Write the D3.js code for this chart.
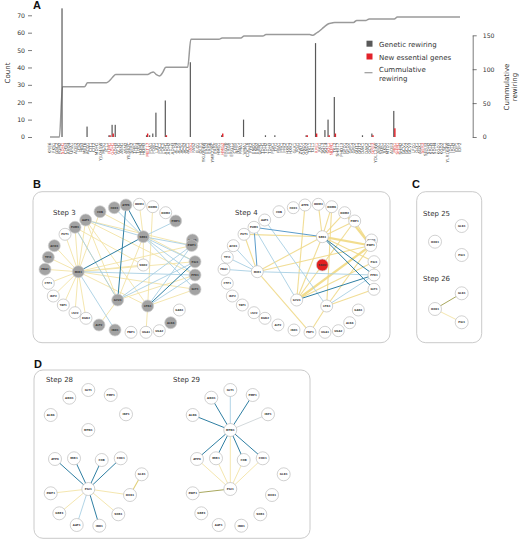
<!DOCTYPE html>
<html><head><meta charset="utf-8">
<script src="https://cdn.jsdelivr.net/npm/d3@7"></script>
<style>body{margin:0;background:#fff}svg{display:block}</style>
</head><body><div id="c"></div>
<script>
// ---------------- DATA ----------------
const genes = [
"KRE6","FKS1","GSC2","PGM2","SDH1","CHS3","ARO4","URA1","ADE2","LYS2","HIS3","MET6",
"ACO1","CIT1","CIT2","MDH1","YJL045W","MLS1","ICL1","FUM1","GDH1","GDH3","GLN1","ASN1",
"ASN2","YIL042C","SER2","THR1","THR4","HOM2","HOM3","MET17","PDA1","PDB1","LAT1","PDC1",
"PDC5","ADH1","ADH2","ADH3","ALD4","ALD5","ACS1","ACS2","ACC1","FAS1","FAS2","ELO1",
"OLE1","YKL094W","ERG2","ERG6","YMR226C","ERG5","HMG1","HMG2","ERG20","ERG9","ERG11","CYB5",
"NCP1","PMA1","VMA1","CDC19","PYK2","ENO1","ENO2","GPM1","TDH1","TDH2","TDH3","PGK1",
"TPI1","FBA1","PFK1","PFK2","HXK1","HXK2","GLK1","PGI1","ZWF1","GND1","GND2","TKL1",
"TAL1","RPE1","RKI1","SOL3","SOL4","SOL1","NQM1","TKL2","SHB17","PHO13","GPD1","GPD2",
"GPP1","GPP2","GUT1","GUT2","DAK1","DAK2","GCY1","GRE3","YDL124W","ARA1","SOR1","XKS1",
"MTD1","ADE3","MIS1","SHM1","SHM2","GCV1","GCV2","GCV3","LPD1","GLY1","AGX1","SER3",
"SER33","SDH2","SDH3","SDH4","KGD1","KGD2","LSC1","YLR164W","IDH1","IDH2","IDP1","IDP2"
];
const geneticRewiring = [
0,0,0,0,74,0,0,0,0,0,0,0,
6,0,0,0,0,0,0,1,7,7,0,0,
0,0,0,0,0,0,0,1,1,2,14,0,
0,21,0,0,0,0,0,0,0,43,0,0,
0,0,0,0,0,0,0,1,0,0,0,0,
0,0,10,0,0,0,0,0,0,1,0,0,
1,0,0,0,0,0,0,0,0,0,1,0,
0,54,0,0,4,10,0,23,0,0,0,0,
0,0,0,0,1,0,0,2,0,0,0,0,
0,0,15,0,0,0,0,0,0,0,0,0,
0,0,0,0,0,0,0,0,0,0,0,0
];
const newEssential = [
0,0,0,0,0,0,0,0,0,0,0,0,
0,0,0,0,0,0,0,1,2,0,0,0,
0,0,0,0,0,0,0,2,0,0,0,0,
0,1,0,0,0,0,0,0,0,0,0,0,
0,0,0,0,0,0,0,2,0,0,0,0,
0,0,0,0,0,0,0,0,0,0,0,0,
0,0,0,0,0,0,0,0,0,0,1,0,
0,2,0,0,0,1,0,2,0,0,0,0,
0,0,0,0,0,0,0,1,0,0,0,0,
0,0,5,0,0,0,0,0,0,0,0,0,
0,0,0,0,0,0,0,0,0,0,0,0
];
const cumulative = [
0,0,0,0,74,74,74,74,74,74,74,74,
80,80,80,80,80,80,80,83,88,92,92,92,
92,92,92,92,92,92,92,92,94,96,92,90,
95,103,103,103,103,103,103,103,103,144,144,144,
144,144,144,144,144,144,144,146,146,146,146,146,
146,146,149,149,149,149,149,149,149,151,151,151,
151,151,151,151,151,151,151,151,151,151,151,151,
150,153,156,160,164,167,168,169,169,169,169,169,
169,169,172,172,172,172,174,174,174,174,174,174,
174,174,174,177,177,177,177,177,177,177,177,177,
177,177,177,177,177,177,177,177,177,177,177,177
];
const redLabelGenes = ["SDH1","FUM1","GDH1","MET17","FAS1","HMG2","RPE1","SOL1","NQM1","GRE3","MIS1","SHM1","SER3"];
const countTicks = [0,10,20,30,40,50,60,70];
const cumTicks = [0,50,100,150];
const legendLabels = ["Genetic rewiring","New essential genes",["Cummulative","rewiring"]];

// network layouts (layout units)
const layoutB = [
["COB",55,7.7],["COX1",69.3,3.7],["ATP6",81,1],["HOM3",94.3,0.3],["HOM6",107.7,2.7],["HOM2",120.7,8.7],
["PMP1",130.7,17],["GND1",147.5,36],["ZWF1",146.7,41.5],["PGI1",150,57.7],["PFK1",150,71],["GLY1",150,85.3],
["GAD1",134.3,106],["ALD6",125.7,118.7],["UGA2",114.3,126.7],["UGA1",101,128.3],["FBP1",86,128.3],
["IDH1",70,126],["ALT2",54,121],["KGD2",41,114.3],["LSC2",30,108.7],["YAT1",18.3,101],["IDP2",8.3,92],
["CTP1",3.3,79.3],["FBA1",0,65.3],["TPI1",3.3,53.3],["ACH1",9.3,41.7],["PUT1",20,30.3],["FUM1",30,23.3],
["AAT1",40.7,16],["SER3",98.3,32.7],["SDH2",98.3,61],["MIR1",33.3,67.7],["GCV3",72.7,96],["LPD1",102.7,102]
];
const step3Grey = ["COB","COX1","ATP6","PMP1","GND1","ZWF1","PGI1","PFK1","GLY1","ALD6","IDH1","ALT2","FBA1","TPI1","ACH1","FUM1","AAT1","SER3","MIR1","GCV3","LPD1"];
const step4Red = ["SDH2"];
const step3Edges = [
["MIR1","FUM1","l"],["MIR1","PUT1","l"],["MIR1","ACH1","l"],["MIR1","TPI1","l"],["MIR1","FBA1","l"],["MIR1","CTP1","l"],
["MIR1","IDP2","l"],["MIR1","YAT1","l"],["MIR1","LSC2","l"],["MIR1","KGD2","l"],["MIR1","AAT1","l"],["MIR1","COB","l"],
["MIR1","SDH2","l"],["MIR1","PGI1","l"],["MIR1","ZWF1","l"],["MIR1","GLY1","l"],["GCV3","AAT1","l"],["GCV3","FUM1","l"],
["GCV3","ALT2","l"],["GCV3","SER3","l"],["LPD1","HOM6","l"],["SER3","HOM3","l"],["SER3","SDH2","l"],["AAT1","ZWF1","l"],
["AAT1","PFK1","l"],["FUM1","SDH2","l"],["LPD1","GLY1","l"],["LPD1","UGA1","l"],["LPD1","MIR1","l"],["GCV3","PFK1","l"],
["AAT1","LPD1","l"],["COB","PGI1","l"],
["AAT1","SER3","b"],["SER3","ZWF1","b"],["SER3","PGI1","b"],["SER3","PFK1","b"],["SER3","GLY1","b"],["SER3","PMP1","b"],
["MIR1","PFK1","b"],["GCV3","ZWF1","b"],["GCV3","PGI1","b"],["FUM1","GCV3","b"],["LPD1","ZWF1","b"],["MIR1","IDH1","b"],
["COX1","SER3","b"],["LPD1","PFK1","b"],
["ATP6","SER3","t"],["ATP6","GCV3","t"],["MIR1","SER3","t"],["PGI1","LPD1","t"]
];
const step4Edges = [
["SER3","ZWF1","Y"],["SER3","HOM3","y"],["SER3","HOM6","y"],["SER3","HOM2","y"],["SER3","PMP1","y"],["SER3","PGI1","y"],
["SER3","MIR1","y"],["SER3","PUT1","y"],["MIR1","ZWF1","y"],["GCV3","ATP6","y"],["GCV3","ZWF1","Y"],["GCV3","PGI1","y"],
["GCV3","PMP1","y"],["LPD1","HOM6","y"],["LPD1","FBP1","y"],["LPD1","ZWF1","y"],["LPD1","GLY1","y"],["FBP1","MIR1","y"],
["MIR1","PUT1","y"],["ZWF1","HOM2","Y"],["ZWF1","PMP1","y"],["PGI1","PFK1","y"],["GCV3","SER3","y"],
["MIR1","PFK1","b"],["LPD1","PFK1","b"],["FUM1","GCV3","b"],["MIR1","FBA1","b"],["MIR1","TPI1","b"],["MIR1","ACH1","b"],["AAT1","LPD1","b"],
["FUM1","MIR1","m"],["FUM1","SER3","m"],
["SER3","PFK1","t"],["SER3","GLY1","t"],["GCV3","PFK1","t"]
];
const layoutC = [["GLK1",26.7,0],["HXK1",0,15.7],["PGI1",26.7,29]];
const step25Edges = [];
const step26Edges = [["HXK1","GLK1","o"],["HXK1","PGI1","l"]];
const layoutD = [
["GLY1",37.6,0],["ADO1",18.6,7.7],["PMP1",60,5],["ALD6",0,25],["IDP1",75.3,24.3],["MTD1",37.6,40],
["ATP6",4.3,69],["MIR1",23.3,68.3],["COB",51,70],["COX1",70,68.3],["GLK1",91,84.3],["PGI1",37.6,99],
["HXK1",79.3,105],["ZWF1",0,103.3],["GRE3",8.6,123.3],["SOR1",67.6,124.3],["AAT1",26,135],["IDH1",48.6,135.7]
];
const step28Edges = [
["PGI1","ZWF1","l"],["PGI1","GRE3","l"],["PGI1","SOR1","l"],["PGI1","HXK1","l"],["HXK1","GLK1","y2"],["PGI1","AAT1","b"],
["PGI1","ATP6","t"],["PGI1","MIR1","t"],["PGI1","COB","t"],["PGI1","COX1","t"],["PGI1","IDH1","t"]
];
const step29Edges = [
["MTD1","PGI1","l"],["PGI1","ATP6","l"],["PGI1","MIR1","l"],["PGI1","COB","l"],["PGI1","COX1","l"],["PGI1","ZWF1","o"],
["MTD1","IDP1","g"],["MTD1","GLY1","b"],
["MTD1","ADO1","t"],["MTD1","PMP1","t"],["MTD1","ALD6","t"],["MTD1","ATP6","t"],["MTD1","MIR1","t"],["MTD1","COB","t"],["MTD1","COX1","t"]
];
const stepTitles = ["Step 3","Step 4","Step 25","Step 26","Step 28","Step 29"];

// ---------------- STYLE ----------------
const FONT = "'DejaVu Sans', Verdana, sans-serif";
const edgeStyle = {
  l:{c:"#f3e3a6",w:1,o:0.9}, y:{c:"#f0d98a",w:1.1,o:0.9}, Y:{c:"#f0d77a",w:2.2,o:0.85}, y2:{c:"#e2d07a",w:1.1,o:1},
  b:{c:"#a9cfe3",w:1,o:0.9}, m:{c:"#5b9ccb",w:1,o:1}, t:{c:"#2f7fa3",w:1,o:1},
  o:{c:"#a9a85e",w:1,o:1}, g:{c:"#d3d9dc",w:1,o:1}
};

const svg = d3.select("#c").append("svg").attr("width",520).attr("height",541)
  .style("font-family",FONT);

// ---------------- PANEL A ----------------
const x = d3.scalePoint().domain(genes).range([50,460]);
const yL = d3.scaleLinear().domain([0,70]).range([137,15.3]);
const yR = d3.scaleLinear().domain([0,150]).range([137,35.3]);
const A = svg.append("g");

A.append("g").attr("transform","translate(32,0)")
  .call(d3.axisLeft(yL).tickValues(countTicks).tickSize(4).tickPadding(3))
  .attr("font-family",FONT).attr("font-size",6.2)
  .call(g=>g.select(".domain").remove())
  .call(g=>g.selectAll("line").attr("stroke","#444").attr("stroke-width",0.7))
  .call(g=>g.selectAll("text").attr("fill","#333"));

A.append("g").attr("transform","translate(472.7,0)")
  .call(d3.axisRight(yR).tickValues(cumTicks).tickSize(4).tickSizeOuter(0).tickPadding(6))
  .attr("font-family",FONT).attr("font-size",6.2)
  .call(g=>g.select(".domain").attr("stroke","#444").attr("stroke-width",0.7))
  .call(g=>g.selectAll("line").attr("stroke","#444").attr("stroke-width",0.7))
  .call(g=>g.selectAll("text").attr("fill","#333"));

A.append("text").attr("transform","translate(10,73) rotate(-90)").attr("text-anchor","middle")
  .attr("font-size",7).attr("fill","#333").text("Count");
const rl = A.append("text").attr("transform","translate(509,87) rotate(-90)").attr("text-anchor","middle")
  .attr("font-size",7).attr("fill","#333");
rl.append("tspan").attr("x",0).attr("dy",0).text("Cummulative");
rl.append("tspan").attr("x",0).attr("dy",8).text("rewiring");

const line = d3.line().x((d,i)=>x(genes[i])).y(d=>yR(d)).curve(d3.curveMonotoneX);
A.append("path").datum(cumulative).attr("d",line).attr("fill","none")
  .attr("stroke","#9a9a9a").attr("stroke-width",1.5);

A.selectAll(".bg").data(genes.map((g,i)=>({g,v:geneticRewiring[i]})).filter(d=>d.v>0))
  .join("rect").attr("x",d=>x(d.g)-1.1).attr("width",1.2)
  .attr("y",d=>yL(d.v)).attr("height",d=>yL(0)-yL(d.v)).attr("fill","#595959");
A.selectAll(".br").data(genes.map((g,i)=>({g,v:newEssential[i]})).filter(d=>d.v>0))
  .join("rect").attr("x",d=>x(d.g)-0.1).attr("width",1.4)
  .attr("y",d=>yL(d.v)).attr("height",d=>yL(0)-yL(d.v)).attr("fill","#e2222a");

A.selectAll(".xl").data(genes).join("text")
  .attr("transform",d=>`translate(${x(d)},142.5) rotate(-90)`)
  .attr("text-anchor","end").attr("dy","0.35em").attr("font-size",4.2)
  .attr("fill",d=>redLabelGenes.includes(d)?"#e23a3a":"#444").text(d=>d);

// legend
const L = A.append("g");
L.append("rect").attr("x",366.5).attr("y",40.7).attr("width",6).attr("height",6).attr("fill","#595959");
L.append("rect").attr("x",366.5).attr("y",53.5).attr("width",6).attr("height",6).attr("fill","#e2222a");
L.append("line").attr("x1",364.5).attr("x2",372.5).attr("y1",72.7).attr("y2",72.7).attr("stroke","#9a9a9a").attr("stroke-width",1.2);
L.append("text").attr("x",379).attr("y",47).attr("font-size",7).attr("fill","#333").text(legendLabels[0]);
L.append("text").attr("x",379).attr("y",60).attr("font-size",7).attr("fill","#333").text(legendLabels[1]);
L.append("text").attr("x",379).attr("y",72).attr("font-size",7).attr("fill","#333").text(legendLabels[2][0]);
L.append("text").attr("x",379).attr("y",80.5).attr("font-size",7).attr("fill","#333").text(legendLabels[2][1]);

// ---------------- PANEL LABELS & BOXES ----------------
const panelLabels = [["A",33,9],["B",33,188],["C",412,188],["D",34,368]];
svg.selectAll(".pl").data(panelLabels).join("text").attr("x",d=>d[1]).attr("y",d=>d[2])
  .attr("font-family","'Liberation Sans', Arial, sans-serif").attr("font-weight","bold")
  .attr("font-size",11).attr("fill","#111").text(d=>d[0]);

function box(x0,y0,x1,y1){
  svg.append("rect").attr("x",x0).attr("y",y0).attr("width",x1-x0).attr("height",y1-y0)
    .attr("rx",9).attr("fill","none").attr("stroke","#c4c4c4").attr("stroke-width",0.9);
}
box(33,191.7,390,342.7);
box(416.7,191.7,481.7,342.7);
box(34,370,310,538.3);

// ---------------- NETWORK DRAWING ----------------
function drawNet(layout, edges, fillOf, x0, y0, r, fs){
  const sx = d3.scaleLinear().domain([0,100]).range([x0,x0+100]);
  const sy = d3.scaleLinear().domain([0,100]).range([y0,y0+100]);
  const pos = new Map(layout.map(d=>[d[0],[sx(d[1]),sy(d[2])]]));
  const g = svg.append("g");
  g.selectAll("line").data(edges).join("line")
    .attr("x1",d=>pos.get(d[0])[0]).attr("y1",d=>pos.get(d[0])[1])
    .attr("x2",d=>pos.get(d[1])[0]).attr("y2",d=>pos.get(d[1])[1])
    .attr("stroke",d=>edgeStyle[d[2]].c).attr("stroke-width",d=>edgeStyle[d[2]].w)
    .attr("stroke-opacity",d=>edgeStyle[d[2]].o);
  const n = g.selectAll("g.n").data(layout).join("g")
    .attr("transform",d=>`translate(${sx(d[1])},${sy(d[2])})`);
  n.append("circle").attr("r",r)
    .attr("fill",d=>fillOf(d[0]))
    .attr("stroke",d=>fillOf(d[0])==="#fff"?"#bdbdbd":"#d0d0d0").attr("stroke-width",0.7);
  n.append("text").attr("text-anchor","middle").attr("dy","0.36em").attr("font-size",fs)
    .attr("font-weight","bold").attr("fill","#333").text(d=>d[0]);
}
function title(t,x0,y0){
  svg.append("text").attr("x",x0).attr("y",y0).attr("font-size",7).attr("fill","#333").text(t);
}

// Panel B
drawNet(layoutB, step3Edges, id=>step3Grey.includes(id)?"#a3a3a3":"#fff", 45, 204, 6, 2.6);
drawNet(layoutB, step4Edges, id=>step4Red.includes(id)?"#e3201f":"#fff", 224, 204, 6, 2.6);
title(stepTitles[0],53,215);
title(stepTitles[1],235,215);

// Panel C
drawNet(layoutC, step25Edges, ()=>"#fff", 435, 226, 6.5, 2.6);
drawNet(layoutC, step26Edges, ()=>"#fff", 435, 293.3, 6.5, 2.6);
title(stepTitles[2],423,216);
title(stepTitles[3],423,281);

// Panel D
drawNet(layoutD, step28Edges, ()=>"#fff", 50.7, 390, 6.5, 2.7);
drawNet(layoutD, step29Edges, ()=>"#fff", 192.7, 390, 6.5, 2.7);
title(stepTitles[4],46,382);
title(stepTitles[5],173,382);
</script>
</body></html>
